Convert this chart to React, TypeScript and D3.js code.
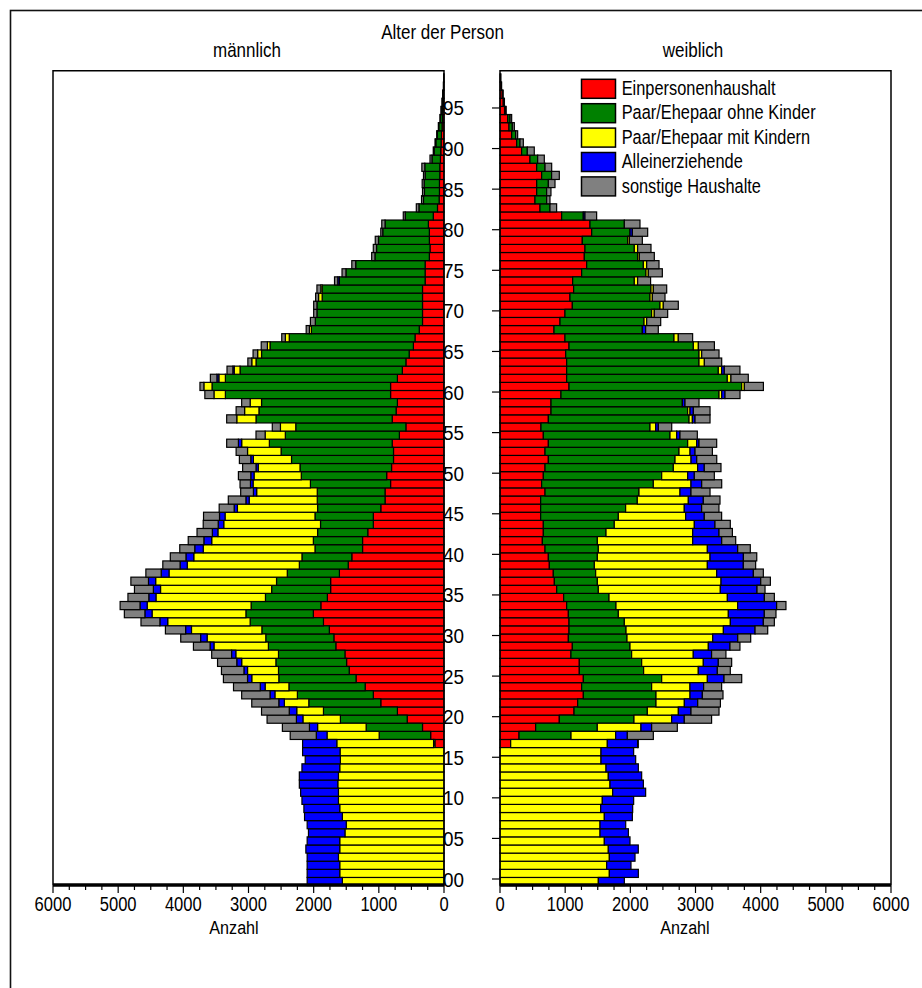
import React from "react";
import * as d3 from "d3";

const categories = [
  "Einpersonenhaushalt",
  "Paar/Ehepaar ohne Kinder",
  "Paar/Ehepaar mit Kindern",
  "Alleinerziehende",
  "sonstige Haushalte",
];
const colors = ["#FF0000", "#008000", "#FFFF00", "#0000FF", "#808080"];

const ages = d3.range(0, 100);
const ageTicks = d3.range(0, 100, 5);
const ageTickLabels = ageTicks.map((a) => (a < 10 ? "0" + a : String(a)));
const valueTicks = [0, 1000, 2000, 3000, 4000, 5000, 6000];

// männlich, ages 0..99
const maleSingle = [0,0,0,0,0,0,0,0,0,0,0,0,0,0,0,0,0,140,205,330,565,715,970,1085,1210,1350,1455,1495,1520,1660,1690,1760,1850,2005,1890,1790,1740,1740,1605,1470,1415,1250,1250,1170,1085,1085,970,905,905,820,880,805,775,775,795,685,585,795,735,715,820,820,715,640,585,535,470,445,380,330,330,330,330,330,290,290,290,225,215,225,225,240,165,100,75,70,70,65,65,55,50,45,40,30,25,20,15,10,5,3];
const maleNoKids = [0,0,0,0,0,0,0,0,0,0,0,0,0,0,0,0,0,20,790,865,1025,1135,1105,1165,1170,1185,1085,1085,1020,1035,1045,1035,1125,1035,1070,950,905,830,800,750,765,730,755,770,810,895,970,1040,1040,1230,1310,1405,1565,1725,1885,1750,1690,2090,2105,2085,2535,2740,2640,2490,2300,2265,2200,1930,1655,1645,1620,1620,1540,1540,1315,1215,1065,835,820,780,715,665,430,285,240,230,235,225,230,130,100,80,62,50,32,22,13,9,5,2];
const maleKids = [1560,1600,1600,1620,1600,1600,1520,1500,1560,1600,1620,1620,1630,1620,1600,1590,1595,1485,800,745,575,410,375,345,365,415,475,525,655,835,900,1080,1265,1440,1595,1680,1705,1855,1815,1720,1660,1715,1560,1530,1485,1380,1230,1045,930,880,725,640,585,515,425,310,235,295,220,175,175,125,100,90,65,60,40,60,30,0,0,0,55,20,0,0,0,0,0,0,0,0,0,0,0,0,0,0,0,0,0,0,0,0,0,0,0,0,0,0];
const maleSingleParent = [540,500,500,480,520,500,560,600,580,550,560,580,590,600,580,540,575,525,165,125,100,115,85,75,75,65,55,75,65,60,100,90,120,110,110,110,110,110,120,110,120,130,120,85,85,85,50,50,50,40,50,35,40,0,50,0,0,0,0,0,0,0,30,20,0,0,0,0,0,0,0,0,0,0,25,0,0,0,0,0,0,0,0,0,0,0,0,0,0,0,0,0,0,0,0,0,0,0,0,0];
const maleOther = [0,0,0,0,0,0,0,0,0,0,0,0,0,0,0,0,0,0,400,415,450,425,415,435,410,370,345,295,305,255,305,310,290,315,305,320,290,270,235,265,240,230,240,235,230,245,230,270,195,160,190,205,175,175,180,140,125,155,130,130,140,60,100,90,60,70,95,55,50,75,50,50,45,60,50,60,60,50,50,50,30,50,30,40,30,30,30,25,45,30,15,13,10,7,5,4,2,1,0,0];

// weiblich, ages 0..99
const femaleSingle = [0,0,0,0,0,0,0,0,0,0,0,0,0,0,0,0,0,164,292,547,910,1136,1192,1279,1253,1279,1217,1217,1089,1110,1049,1059,1059,1049,1023,977,870,834,818,757,742,691,650,665,665,624,624,624,691,639,665,691,742,691,742,665,629,742,783,783,936,1059,1023,1023,1023,1008,1059,997,829,921,997,1110,1074,1130,1115,1253,1330,1294,1304,1263,1407,1381,946,614,537,563,563,639,563,460,332,256,179,138,118,70,50,35,20,10];
const femaleNoKids = [0,0,0,0,0,0,0,0,0,0,0,0,0,0,0,0,0,0,798,946,1146,1125,1202,1115,1074,1202,987,957,931,885,900,875,849,767,757,696,639,660,650,691,752,818,844,962,1089,1192,1304,1483,1442,1714,1816,1969,1944,2056,2138,1944,1673,2159,2097,2015,2425,2650,2465,2327,2031,2046,1908,1673,1355,1289,1330,1345,1228,1187,946,987,870,818,757,696,588,527,332,153,179,153,179,153,128,118,87,51,61,51,36,15,10,8,5,2];
const femaleKids = [1509,1678,1637,1678,1662,1601,1535,1535,1601,1545,1570,1729,1688,1662,1627,1550,1550,1483,685,670,578,476,435,522,588,701,839,946,946,1202,1315,1494,1627,1688,1867,1816,1872,1898,1857,1734,1729,1673,1463,1330,1228,1033,900,783,629,578,399,373,246,169,138,102,87,51,36,0,41,41,56,51,82,41,77,66,0,41,41,51,36,36,51,36,51,26,51,26,0,0,0,0,0,0,0,0,0,0,0,0,0,0,0,0,0,0,0,0];
const femaleSingleParent = [399,445,373,394,460,394,435,394,430,491,481,506,512,512,496,532,501,465,179,164,194,194,205,189,210,256,292,230,281,332,384,486,506,552,598,568,563,609,563,552,512,465,445,404,317,286,266,230,169,164,102,102,87,77,36,51,41,41,51,41,51,0,0,41,0,0,0,0,51,0,0,0,0,0,0,0,0,0,0,0,36,0,26,0,0,0,0,0,0,0,0,0,0,0,0,0,0,0,0,0];
const femaleOther = [0,0,0,0,0,0,0,0,0,0,0,0,0,0,0,0,0,10,399,394,419,430,348,317,276,271,199,205,220,153,199,194,169,179,143,153,123,148,153,189,205,194,215,205,235,266,266,256,292,307,307,256,307,266,271,266,205,230,256,215,230,292,266,240,266,266,246,220,194,215,205,230,194,205,199,215,189,230,205,199,235,240,179,102,51,66,102,118,102,102,107,51,31,31,25,10,8,5,0,0];

const maleSeries = [maleSingle, maleNoKids, maleKids, maleSingleParent, maleOther];
const femaleSeries = [femaleSingle, femaleNoKids, femaleKids, femaleSingleParent, femaleOther];

const FONT = "'Liberation Sans', Arial, Helvetica, sans-serif";

function T({ x, y, children, anchor = "middle", size = 19.5, sx = 0.85 }: any) {
  return (
    <text
      transform={`translate(${x},${y}) scale(${sx},1)`}
      textAnchor={anchor}
      fontFamily={FONT}
      fontSize={size}
      fill="#000"
    >
      {children}
    </text>
  );
}

export default function App() {
  const band = 8.116;
  const y = d3.scaleLinear().domain([0, 99]).range([881.5, 881.5 - 99 * band]);
  const tickY = (a: number) => y(a) - 2.5;
  const xL = d3.scaleLinear().domain([0, 6000]).range([444, 53]);
  const xR = d3.scaleLinear().domain([0, 6000]).range([500, 891]);
  const top = 70.7;
  const axisY = 885;

  const makeRows = (series: number[][]) =>
    ages.map((a, i) => {
      const r: any = { age: a };
      categories.forEach((c, k) => (r[c] = series[k][i]));
      return r;
    });
  const stack = d3.stack().keys(categories);
  const maleStack = stack(makeRows(maleSeries));
  const femaleStack = stack(makeRows(femaleSeries));

  const bars = (st: any[], x: any, side: string) =>
    st.map((layer, k) =>
      layer.map((d: any, i: number) => {
        if (d[1] - d[0] <= 0) return null;
        const x0 = x(d[0]);
        const x1 = x(d[1]);
        return (
          <rect
            key={`${side}-${k}-${i}`}
            x={Math.min(x0, x1)}
            y={y(ages[i]) - band / 2}
            width={Math.abs(x1 - x0)}
            height={band}
            fill={colors[k]}
            stroke="#000"
            strokeWidth={1.2}
          />
        );
      })
    );

  const minorTicks = d3.range(0, 6001, 250);

  const axis = (x: any, side: string) => (
    <g key={`axis-${side}`}>
      <line x1={x(0)} x2={x(6000)} y1={axisY} y2={axisY} stroke="#000" strokeWidth={3.5} />
      {minorTicks.map((v) => (
        <line
          key={`t-${side}-${v}`}
          x1={x(v)}
          x2={x(v)}
          y1={axisY}
          y2={v % 1000 === 0 ? 893 : 890}
          stroke="#000"
          strokeWidth={1.2}
        />
      ))}
      {valueTicks.map((v) => (
        <T key={`l-${side}-${v}`} x={x(v)} y={911}>
          {String(v)}
        </T>
      ))}
    </g>
  );

  return (
    <svg
      width={922}
      height={988}
      style={{ position: "absolute", left: 0, top: 0, background: "#fff" }}
    >
      <rect x={0} y={0} width={922} height={988} fill="#fff" />
      <rect x={10.5} y={10.5} width={1000} height={1000} fill="none" stroke="#111" strokeWidth={1.6} />

      <T x={442.5} y={39} size={20}>Alter der Person</T>
      <T x={247} y={57} size={20}>männlich</T>
      <T x={693} y={57} size={20}>weiblich</T>

      {/* age labels */}
      {ageTicks.map((a, i) => (
        <T key={`al-${a}`} x={443} y={tickY(a) + 7.5} anchor="start" size={21} sx={0.9}>
          {ageTickLabels[i]}
        </T>
      ))}
      {ageTicks.map((a) => (
        <line key={`at-${a}`} x1={492} x2={500} y1={tickY(a)} y2={tickY(a)} stroke="#000" strokeWidth={1.2} />
      ))}

      {bars(maleStack, xL, "m")}
      {bars(femaleStack, xR, "f")}

      {/* panel frames */}
      <path d={`M444,${axisY} V${top} H53 V${axisY}`} fill="none" stroke="#000" strokeWidth={1.5} />
      <path d={`M500,${axisY} V${top} H891 V${axisY}`} fill="none" stroke="#000" strokeWidth={1.5} />

      {axis(xL, "L")}
      {axis(xR, "R")}

      <T x={234} y={934} size={19}>Anzahl</T>
      <T x={685} y={934} size={19}>Anzahl</T>

      {/* legend */}
      {categories.map((c, k) => (
        <g key={`lg-${k}`}>
          <rect x={581.5} y={79.3 + 24.4 * k} width={34} height={19} fill={colors[k]} stroke="#000" strokeWidth={1.5} />
          <T x={621.7} y={95 + 24.4 * k} anchor="start" size={19.5} sx={0.84}>
            {c}
          </T>
        </g>
      ))}
    </svg>
  );
}
